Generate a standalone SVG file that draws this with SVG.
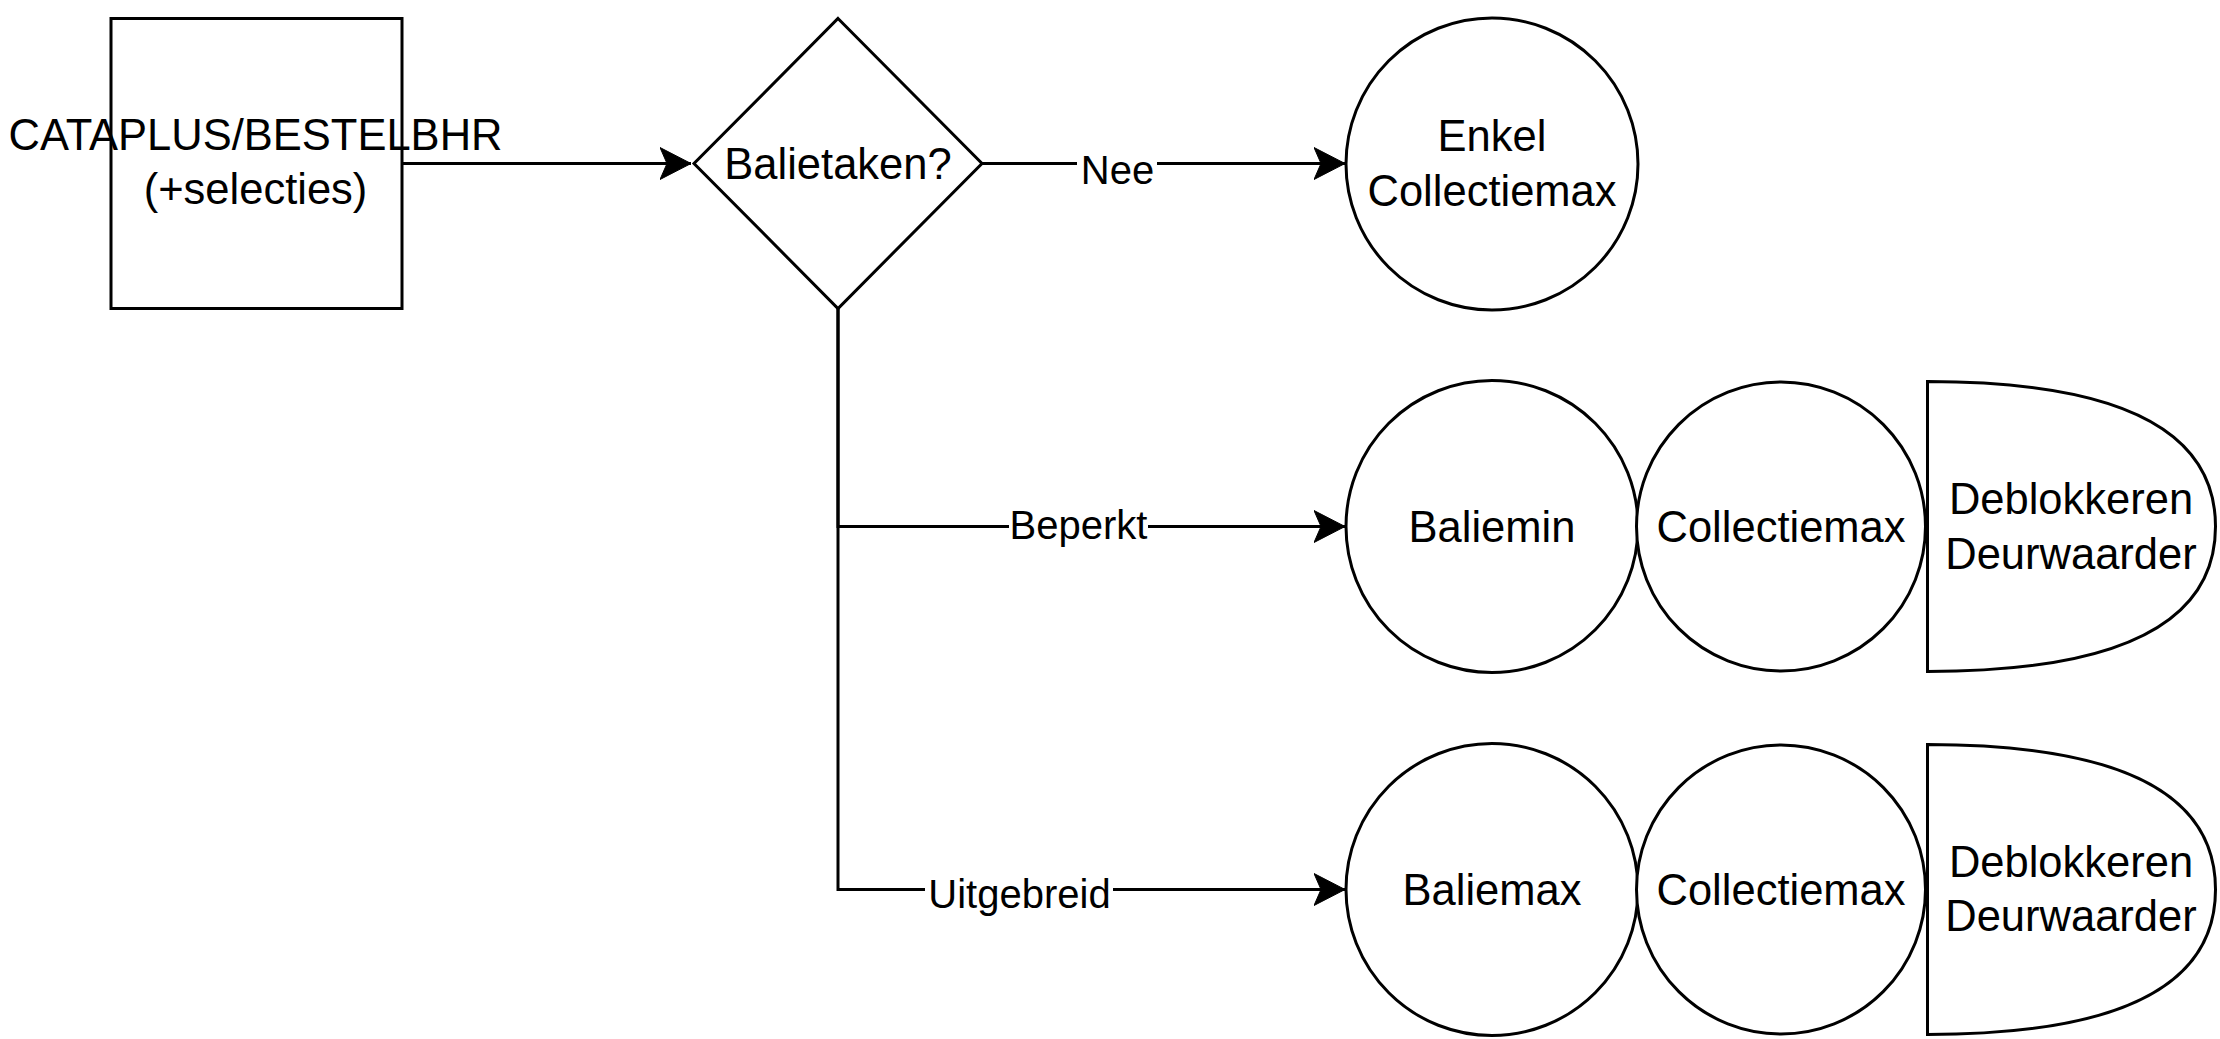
<svg xmlns="http://www.w3.org/2000/svg" width="2220" height="1039" viewBox="0 0 2220 1039">
  <style>
    .shape { fill: #ffffff; stroke: #000000; stroke-width: 3; }
    .edge { fill: none; stroke: #000000; stroke-width: 3; }
    .node-text { font-family: "Liberation Sans", Arial, Helvetica, sans-serif; font-size: 43.5px; fill: #000000; text-anchor: middle; }
    .edge-label { font-family: "Liberation Sans", Arial, Helvetica, sans-serif; font-size: 40px; fill: #000000; text-anchor: middle; }
    .label-bg { fill: #ffffff; stroke: none; }
  </style>
  <defs>
    <marker id="arrow" viewBox="0 0 32 34" refX="31" refY="17" markerWidth="32" markerHeight="34" markerUnits="userSpaceOnUse" orient="auto">
      <path d="M31,17 L0,1 L7,17 L0,33 Z" fill="#000000" stroke="#000000" stroke-width="1"/>
    </marker>
  </defs>
  <rect x="0" y="0" width="2220" height="1039" fill="#ffffff"/>

  <g id="connectors">
    <path class="edge" d="M402,163.5 H691" marker-end="url(#arrow)"/>
    <path class="edge" d="M982,163.5 H1345" marker-end="url(#arrow)"/>
    <path class="edge" d="M838,308.5 V526.5 H1345" marker-end="url(#arrow)"/>
    <path class="edge" d="M838,308.5 V889.5 H1345" marker-end="url(#arrow)"/>
    <g id="label-nee">
      <rect class="label-bg" x="1077" y="150" width="80" height="40"/>
      <text class="edge-label" x="1117.5" y="183.5">Nee</text>
    </g>
    <g id="label-beperkt">
      <rect class="label-bg" x="1009" y="508" width="139" height="40"/>
      <text class="edge-label" x="1078.5" y="539">Beperkt</text>
    </g>
    <g id="label-uitgebreid">
      <rect class="label-bg" x="925" y="876" width="188" height="40"/>
      <text class="edge-label" x="1019.5" y="907.5">Uitgebreid</text>
    </g>
  </g>

  <g id="node-cataplus">
    <rect class="shape" x="111" y="18.5" width="291" height="290"/>
    <text class="node-text" x="255.5" y="150">CATAPLUS/BESTELBHR</text>
    <text class="node-text" x="255.5" y="204">(+selecties)</text>
  </g>

  <g id="node-balietaken">
    <polygon class="shape" points="838,18.5 982,163.5 838,308.5 694,163.5"/>
    <text class="node-text" x="838" y="179">Balietaken?</text>
  </g>

  <g id="node-enkel-collectiemax">
    <circle class="shape" cx="1492" cy="164" r="146"/>
    <text class="node-text" x="1492" y="151">Enkel</text>
    <text class="node-text" x="1492" y="205.5">Collectiemax</text>
  </g>

  <g id="node-baliemin">
    <circle class="shape" cx="1492" cy="526.5" r="146"/>
    <text class="node-text" x="1492" y="541.5">Baliemin</text>
  </g>
  <g id="node-collectiemax-2">
    <circle class="shape" cx="1781" cy="526.5" r="144.5"/>
    <text class="node-text" x="1781" y="541.5">Collectiemax</text>
  </g>
  <g id="node-deblokkeren-2">
    <path class="shape" d="M1927.5,381.5 Q2215.5,381.5 2215.5,526.5 Q2215.5,671.5 1927.5,671.5 Z"/>
    <text class="node-text" x="2071" y="513.5">Deblokkeren</text>
    <text class="node-text" x="2071" y="568.5">Deurwaarder</text>
  </g>

  <g id="node-baliemax">
    <circle class="shape" cx="1492" cy="889.5" r="146"/>
    <text class="node-text" x="1492" y="904.5">Baliemax</text>
  </g>
  <g id="node-collectiemax-3">
    <circle class="shape" cx="1781" cy="889.5" r="144.5"/>
    <text class="node-text" x="1781" y="904.5">Collectiemax</text>
  </g>
  <g id="node-deblokkeren-3">
    <path class="shape" d="M1927.5,744.5 Q2215.5,744.5 2215.5,889.5 Q2215.5,1034.5 1927.5,1034.5 Z"/>
    <text class="node-text" x="2071" y="876.5">Deblokkeren</text>
    <text class="node-text" x="2071" y="931">Deurwaarder</text>
  </g>
</svg>
